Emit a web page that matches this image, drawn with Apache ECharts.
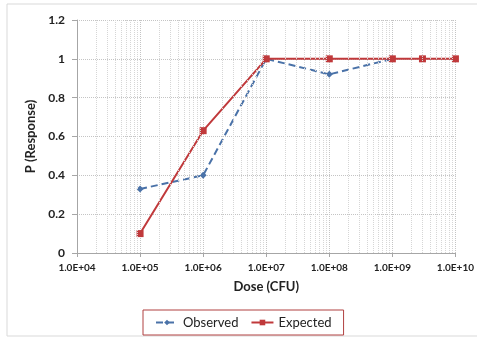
<!DOCTYPE html>
<html><head><meta charset="utf-8">
<script src="https://cdn.jsdelivr.net/npm/echarts@6/dist/echarts.min.js"></script>
<style>html,body{margin:0;padding:0;background:#fff}#c{width:477px;height:339px}</style>
</head><body><div id="c"></div>
<script>
const observedDose = [1e5, 1e6, 1e7, 1e8, 1e9];
const observedP = [0.33, 0.40, 1.0, 0.92, 1.0];
const expectedDose = [1e5, 1e6, 1e7, 1e8, 1e9, 3e9, 1e10];
const expectedP = [0.10, 0.63, 1.0, 1.0, 1.0, 1.0, 1.0];
const xMin = 1e4, xMax = 1e10;
const yTicks = [0, 0.2, 0.4, 0.6, 0.8, 1, 1.2];

const minorX = [];
for (let d = 4; d < 10; d++) for (let k = 2; k <= 9; k++) minorX.push(k * Math.pow(10, d));

function fmtE(v) {
  const e = Math.round(Math.log10(v));
  return '1.0E+' + (e < 10 ? '0' + e : e);
}
const chart = echarts.init(document.getElementById('c'));
const gridCol = '#c4c4c4';
chart.setOption({
  animation: false,
  textStyle: { fontFamily: 'Lato' },
  graphic: [{ type: 'rect', shape: { x: 7, y: 4, width: 480, height: 332 }, style: { fill: 'none', stroke: '#d9d9d9', lineWidth: 1 } }],
  grid: { left: 77, right: 19, top: 20, bottom: 86 },
  legend: {
    bottom: 4, left: 143, itemGap: 12, itemWidth: 22, itemHeight: 7,
    padding: [6, 12, 6, 12], borderColor: '#b04040', borderWidth: 1,
    textStyle: { fontSize: 13, color: '#222', fontFamily: 'Lato' },
    data: ['Observed', 'Expected']
  },
  xAxis: {
    type: 'log', logBase: 10, min: xMin, max: xMax,
    name: 'Dose (CFU)', nameLocation: 'middle', nameGap: 27,
    nameTextStyle: { fontSize: 13, fontWeight: 'bold', color: '#222', fontFamily: 'Lato' },
    axisLine: { lineStyle: { color: '#a6a6a6' } },
    axisTick: { show: true, length: 4, lineStyle: { color: '#a6a6a6' } },
    axisLabel: { formatter: fmtE, fontSize: 10, fontWeight: 'bold', color: '#222', margin: 10 },
    splitLine: { show: true, lineStyle: { color: gridCol, type: 'dotted' } }
  },
  yAxis: {
    type: 'value', min: 0, max: 1.2, interval: 0.2,
    name: 'P (Response)', nameLocation: 'middle', nameGap: 40, nameRotate: 90,
    nameTextStyle: { fontSize: 13, fontWeight: 'bold', color: '#222', fontFamily: 'Lato' },
    axisLine: { show: true, lineStyle: { color: '#a6a6a6' } },
    axisTick: { show: true, length: 5, lineStyle: { color: '#a6a6a6' } },
    axisLabel: { formatter: v => String(+v.toFixed(1)), fontSize: 12, fontWeight: 'bold', color: '#222', margin: 12 },
    splitLine: { show: true, lineStyle: { color: gridCol, type: 'dotted' } }
  },
  series: [
    {
      name: 'Minor', type: 'line', data: [], silent: true,
      markLine: {
        silent: true, symbol: 'none', label: { show: false },
        lineStyle: { color: '#d6d6d6', type: 'dotted', width: 1 },
        data: minorX.map(v => ({ xAxis: v }))
      }
    },
    {
      name: 'Observed', type: 'line', z: 3,
      data: observedDose.map((d, i) => [d, observedP[i]]),
      symbol: 'diamond', symbolSize: 7,
      itemStyle: { color: '#4a72a8' },
      lineStyle: { color: '#4a72a8', width: 2, type: [7, 4] }
    },
    {
      name: 'Expected', type: 'line', z: 4,
      data: expectedDose.map((d, i) => [d, expectedP[i]]),
      symbol: 'rect', symbolSize: 7,
      itemStyle: { color: '#c0393b' },
      lineStyle: { color: '#c0393b', width: 2 }
    }
  ]
});
</script></body></html>
